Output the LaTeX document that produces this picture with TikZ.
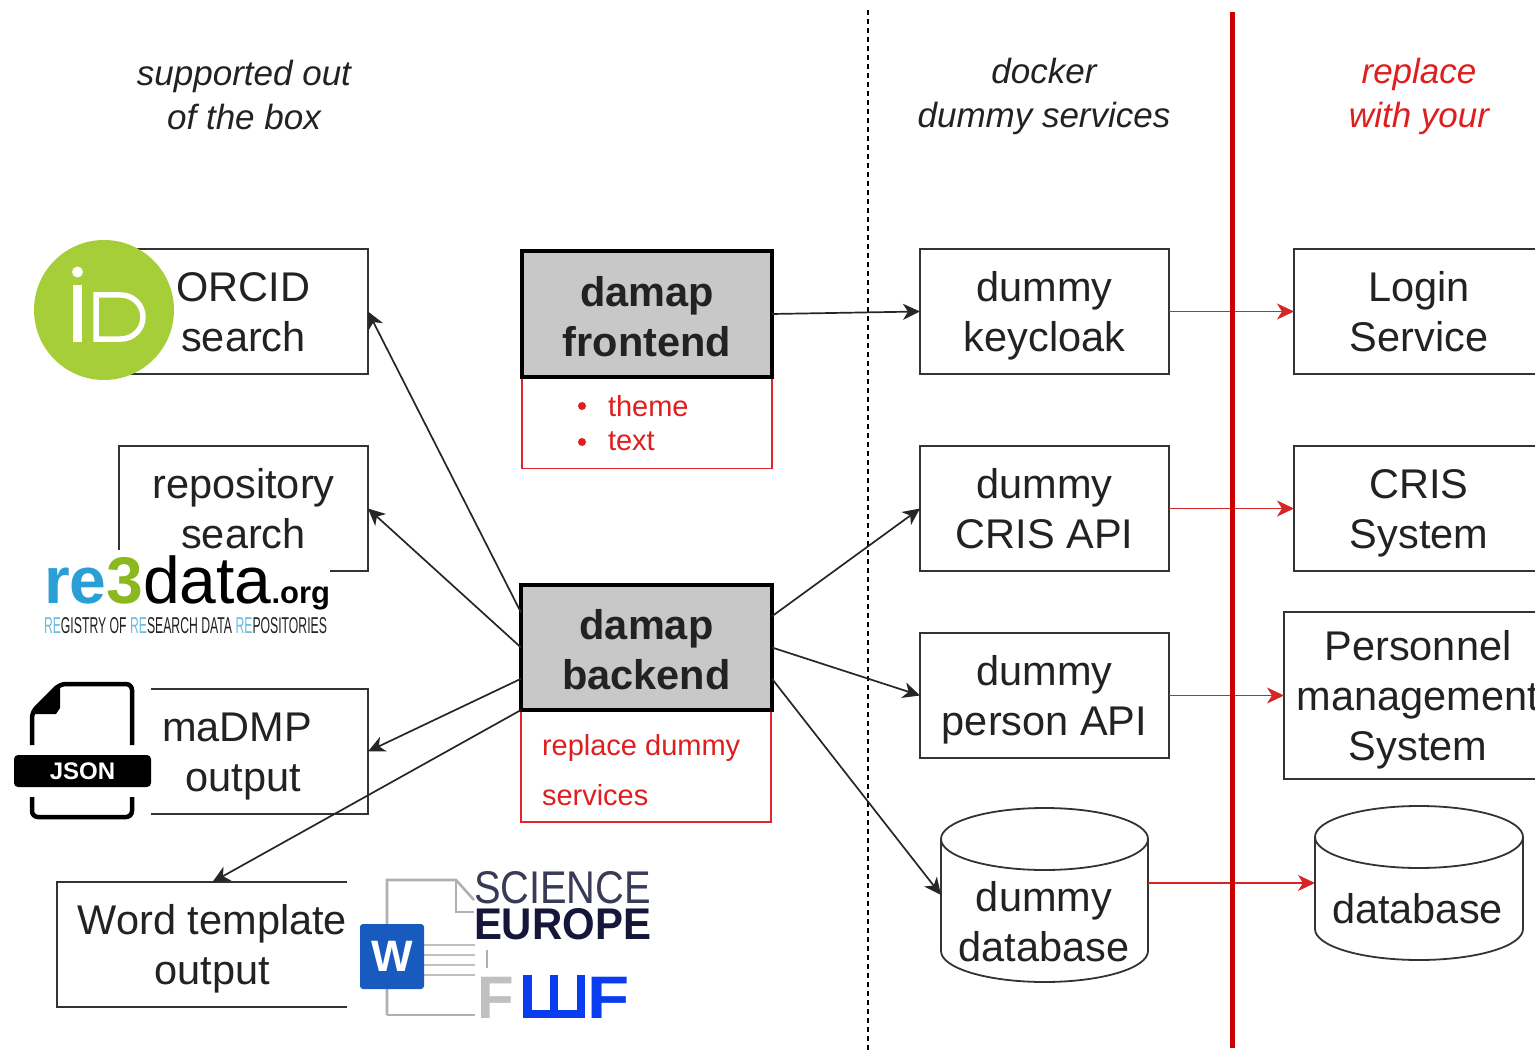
\documentclass[tikz,border=0pt]{standalone}
\usepackage{fontspec}
\usepackage{graphicx}
\setmainfont{Liberation Sans}
\usetikzlibrary{arrows.meta,calc}
\definecolor{txt}{HTML}{222222}
\definecolor{redtxt}{HTML}{DD1F1F}
\definecolor{redline}{HTML}{CC0000}
\definecolor{redbox}{HTML}{E0262B}
\definecolor{grayfill}{HTML}{C8C8C8}
\definecolor{edge}{HTML}{333333}
\definecolor{orcid}{HTML}{A6CE39}
\definecolor{reblue}{HTML}{2A9FD6}
\definecolor{regreen}{HTML}{8AB81E}
\definecolor{wordblue}{HTML}{185ABD}
\definecolor{docgray}{HTML}{B0B0B0}
\definecolor{fwfblue}{HTML}{0A3CF0}
\definecolor{sciink}{HTML}{15173A}
\newcommand{\bigfont}{\fontsize{41.5}{50}\selectfont}
\newcommand{\st}{\rule[-14pt]{0pt}{36pt}}
\newcommand{\sta}{\rule[-14pt]{0pt}{58pt}}
\newcommand{\stb}{\rule[-14pt]{0pt}{62pt}}
\tikzset{
  x=1pt,y=-1pt,
  every node/.style={inner sep=0pt,outer sep=0pt,text=txt},
  plainbox/.style={draw=edge,line width=1.8pt,fill=white,font=\bigfont,align=center},
  corebox/.style={draw=black,line width=3.6pt,fill=grayfill,font=\bigfont\bfseries,align=center},
  notebox/.style={draw=redbox,line width=1.8pt,fill=white},
  heading/.style={font=\fontsize{35}{44}\selectfont\itshape,align=center},
  note/.style={font=\fontsize{29}{50}\selectfont,text=redtxt,align=left},
  conn/.style={draw=black!85,line width=1.7pt,-{Stealth[length=17pt,width=16pt,inset=5pt]}},
  redconn/.style={draw=redline!85,line width=1.9pt,-{Stealth[length=17pt,width=16pt,inset=5pt]}},
  cylbody/.style={draw=edge,line width=1.8pt,fill=white},
}
\newcommand{\cylshape}[4]{% left, right, top, bottom
  \pgfmathsetmacro{\cylrx}{(#2-#1)/2}
  \draw[cylbody] (#1,#3+31) arc[start angle=180,end angle=360,x radius=\cylrx,y radius=31]
    -- (#2,#4-31) arc[start angle=0,end angle=180,x radius=\cylrx,y radius=31] -- cycle;
  \draw[cylbody,fill=none] (#1,#3+31) arc[start angle=180,end angle=0,x radius=\cylrx,y radius=31];
}
\begin{document}
\begin{tikzpicture}
\useasboundingbox (0,0) rectangle (1535,1051);
\begin{scope}
\clip (0,0) rectangle (1535,1051);

% separators
\draw[line width=1.8pt,dash pattern=on 5pt off 4pt,draw=black] (868,10) -- (868,1051);

% headings
\node[heading] (hleft) at (244,95) {supported out\\of the box};
\node[heading] (hmid) at (1044,96) {docker\\dummy services};
\node[heading,text=redtxt] (hright) at (1419,96) {replace\\with your};

% left boxes
\node[plainbox,minimum width=249pt,minimum height=125pt] (orcidbox) at (243.5,311.5) {\sta ORCID\\\st search};
\node[plainbox,minimum width=249pt,minimum height=125pt] (repobox) at (243.5,508.5) {\sta repository\\\st search};
\node[plainbox,minimum width=249pt,minimum height=125pt] (madmpbox) at (243.5,751.5) {\sta maDMP\mbox{\kern13pt}\\\st output};
\node[plainbox,minimum width=311pt,minimum height=125pt] (wordbox) at (212.5,944.5) {\sta Word template\\\st output};

% core boxes
\node[notebox,minimum width=250pt,minimum height=91pt] (frontnote) at (647,423) {};
\node[notebox,minimum width=250pt,minimum height=112pt] (backnote) at (646,766) {};
\node[corebox,minimum width=250pt,minimum height=126pt] (frontend) at (647,314) {\stb damap\\\st frontend};
\node[corebox,minimum width=251pt,minimum height=125pt] (backend) at (646.5,647.5) {\stb damap\\\st backend};
\fill[redtxt] (582,406) circle (4) (582,442) circle (4);
\node[note,anchor=west] (ntheme) at (608,406) {theme};
\node[note,anchor=west] (ntext) at (608,441) {text};
\node[note,anchor=north west] (nreplace) at (542,734) {replace dummy\\services};

% dummy boxes
\node[plainbox,minimum width=249pt,minimum height=125pt] (keycloak) at (1044.5,311.5) {\sta dummy\\\st keycloak};
\node[plainbox,minimum width=249pt,minimum height=125pt] (dummycris) at (1044.5,508.5) {\sta dummy\\\st CRIS API};
\node[plainbox,minimum width=249pt,minimum height=125pt] (person) at (1044.5,695.5) {\sta dummy\\\st person API};
\cylshape{941}{1148}{808}{982}
\node[minimum width=207pt,minimum height=174pt] (dummydbn) at (1044.5,895) {};
\node[font=\bigfont,align=center] (dummydbt) at (1044,921) {\sta dummy\\\st database};

% right boxes
\node[plainbox,minimum width=250pt,minimum height=125pt] (login) at (1419,311.5) {\sta Login\\\st Service};
\node[plainbox,minimum width=250pt,minimum height=125pt] (cris) at (1419,508.5) {\sta CRIS\\\st System};
\node[plainbox,minimum width=268pt,minimum height=167pt] (pers) at (1418,695.5) {\sta Personnel\\\st management\\\st System};
\cylshape{1315}{1523}{806}{960}
\node[minimum width=208pt,minimum height=154pt] (dbn) at (1419,883) {};
\node[font=\bigfont] (dbt) at (1417.5,909) {database};

% connectors
\draw[conn] (frontend.east) -- (keycloak.west);
\draw[conn] ($(backend.north east)!0.25!(backend.south east)$) -- (dummycris.west);
\draw[conn] (backend.east) -- (person.west);
\draw[conn] ($(backend.north east)!0.75!(backend.south east)$) -- (dummydbn.west);
\draw[conn] ($(backend.north west)!0.22!(backend.south west)$) -- (orcidbox.east);
\draw[conn] (backend.west) -- (repobox.east);
\draw[conn] ($(backend.north west)!0.75!(backend.south west)$) -- (madmpbox.east);
\draw[conn] (backend.south west) -- (wordbox.north);

\draw[redconn] (keycloak.east) -- (login.west);
\draw[redconn] (dummycris.east) -- (cris.west);
\draw[redconn] (person.east) -- (pers.west);
\draw[redconn] (dummydbn.east |- dbn.west) -- (dbn.west);

% thick red separator
\draw[draw=redline,line width=5pt] (1232,12) -- (1232,1048);

% ORCID logo
\fill[orcid] (104,310) circle (70);
\fill[white] (77.5,272) circle (5.5);
\fill[white] (73,285) rectangle (82,342);
\draw[white,line width=5.5pt] (96,295) -- (121,295) arc[start angle=-90,end angle=90,radius=22] -- (96,339) -- cycle;

% re3data logo
\fill[white] (36,550) rectangle (330,640);
\node[anchor=base west,font=\fontsize{66}{66}\selectfont] (re3) at (44,603)
  {{\bfseries\color{reblue}re\color{regreen}3}{\color{black}data}{\fontsize{31}{31}\selectfont\bfseries\color{black}.org}};
\node[anchor=north west] (re3sub) at (44,617) {\resizebox{283pt}{16pt}{\fontsize{22}{22}\selectfont\color{reblue!70}RE\color{txt}GISTRY OF \color{reblue!70}RE\color{txt}SEARCH DATA \color{reblue!70}RE\color{txt}POSITORIES}};

% JSON icon
\fill[white] (10,680) rectangle (151,820);
\draw[black,line width=4.5pt,rounded corners=6pt] (32,745) -- (32,712) -- (60,684) -- (132,684) -- (132,745);
\fill[black] (32,714) -- (60,686) -- (60,708) -- (56,714) -- cycle;
\draw[black,line width=4.5pt,rounded corners=6pt] (32,797) -- (32,817) -- (132,817) -- (132,797);
\node[fill=black,rounded corners=4pt,minimum width=137pt,minimum height=32pt,font=\fontsize{24}{24}\selectfont\bfseries,text=white] (json) at (82.5,771) {JSON};

% Word + funders logos
\fill[white] (347,870) rectangle (660,1022);
\draw[docgray,line width=2.6pt] (387,1015) -- (387,880) -- (456,880) -- (474,900);
\draw[docgray,line width=2.6pt] (456,880) -- (456,912) -- (474,912);
\draw[docgray,line width=2.6pt] (387,1015) -- (475,1015);
\foreach \yy in {945,955,965,975} \draw[docgray!80,line width=2.6pt] (424,\yy) -- (475,\yy);
\draw[docgray,line width=2.6pt] (487,950) -- (487,968);
\node[fill=wordblue,rounded corners=3pt,minimum width=64pt,minimum height=65pt,font=\fontsize{44}{44}\selectfont\bfseries,text=white] (wordw) at (392,956.5) {W};
\node[anchor=north west] (science) at (474,871) {\resizebox{177pt}{32pt}{\color{sciink!85}SCIENCE}};
\node[anchor=north west] (europe) at (474,908) {\resizebox{177pt}{31pt}{\color{sciink}\bfseries EUROPE}};
\node[anchor=base west,font=\fontsize{60}{60}\selectfont\bfseries,text=docgray!80] (fwfa) at (477,1018) {F};
\draw[fwfblue,line width=8.5pt,line join=miter] (527.5,975) -- (527.5,1014) -- (581,1014) -- (581,975) (554,975) -- (554,1014);
\node[anchor=base west,font=\fontsize{60}{60}\selectfont\bfseries,text=fwfblue] (fwfb) at (587,1018) {\scalebox{1.15}[1]{F}};
\end{scope}
\end{tikzpicture}
\end{document}
